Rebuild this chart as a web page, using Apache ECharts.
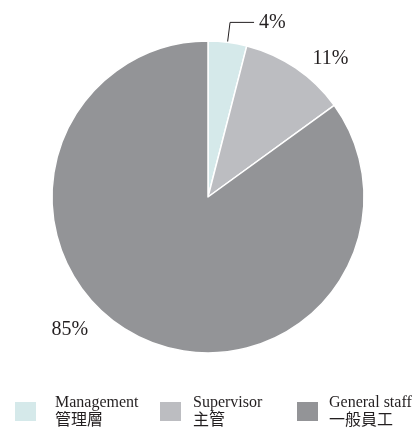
<!DOCTYPE html>
<html><head><meta charset="utf-8">
<script src="https://cdn.jsdelivr.net/npm/echarts@6/dist/echarts.min.js"></script>
<style>html,body{margin:0;padding:0;background:#fff}#c{width:413px;height:435px}</style>
</head><body><div id="c"></div>
<script>
const categories = ['Management\n管理層', 'Supervisor\n主管', 'General staff\n一般員工'];
const values = [4, 11, 85];
const colors = ['#d5e9ea', '#bcbdc1', '#939497'];
const serif = '"Liberation Serif","DejaVu Serif","Noto Sans CJK TC",serif';
const txt = '#231f20';

const labelCfg = [
  { line: true, length: 20, length2: 24, dx: 0, dy: 0 },
  { line: false, length: 12, length2: 5, dx: 0, dy: 1 },
  { line: false, length: 0, length2: 42, dx: -2, dy: -6 }
];

const chart = echarts.init(document.getElementById('c'));
const legendLeft = [13, 158, 295];
const legendPad = [18, 11, 10];
chart.setOption({
  animation: false,
  color: colors,
  legend: categories.map((c, i) => ({
    data: [c],
    left: legendLeft[i],
    top: 386,
    padding: 0,
    itemWidth: 23,
    itemHeight: 21,
    icon: 'rect',
    selectedMode: false,
    textStyle: { fontFamily: serif, fontSize: 16, lineHeight: 18, color: txt, padding: [15, 0, 0, legendPad[i] - 5] }
  })),
  series: [{
    type: 'pie',
    center: [208, 197],
    radius: 156,
    startAngle: 90,
    clockwise: true,
    avoidLabelOverlap: false,
    itemStyle: { borderColor: '#fff', borderWidth: 1.5 },
    label: { show: true, position: 'outside', formatter: '{c}%', fontFamily: serif, fontSize: 20, color: txt },
    labelLayout: function (p) { return { dx: labelCfg[p.dataIndex].dx, dy: labelCfg[p.dataIndex].dy }; },
    data: categories.map((c, i) => ({
      name: c,
      value: values[i],
      labelLine: { show: labelCfg[i].line, length: labelCfg[i].length, length2: labelCfg[i].length2, lineStyle: { color: txt, width: 1 } }
    })),
    emphasis: { disabled: true }
  }]
});
</script></body></html>
